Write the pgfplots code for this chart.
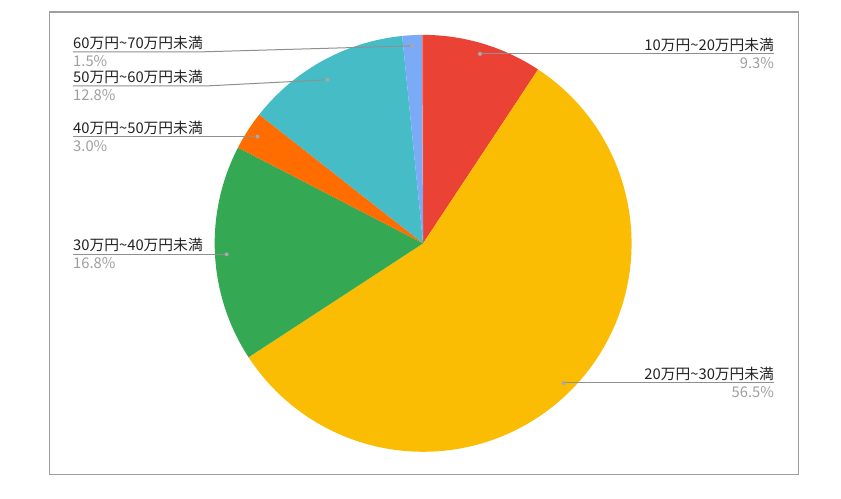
\documentclass[border=0pt]{standalone}
\usepackage{fontspec}
\setmainfont{Noto Sans CJK JP}
\usepackage{pgfplots}
\pgfplotsset{compat=1.18}
\usepackage{pgfplotstable}

\definecolor{cRed}{HTML}{EA4335}
\definecolor{cYellow}{HTML}{FBBC04}
\definecolor{cGreen}{HTML}{34A853}
\definecolor{cOrange}{HTML}{FF6D01}
\definecolor{cTeal}{HTML}{46BDC6}
\definecolor{cBlue}{HTML}{7BAAF7}
\definecolor{cPink}{HTML}{F07B72}
\definecolor{namec}{HTML}{222222}
\definecolor{pctc}{HTML}{9E9E9E}
\definecolor{leadc}{HTML}{8F8F8F}
\definecolor{dotc}{HTML}{A8A8A8}
\definecolor{framec}{HTML}{9E9E9E}

% slices clockwise from 12 o'clock, share in %
\pgfplotstableread[col sep=comma]{
name,value,color
10万円\textasciitilde{}20万円未満,9.3,cRed
20万円\textasciitilde{}30万円未満,56.5,cYellow
30万円\textasciitilde{}40万円未満,16.8,cGreen
40万円\textasciitilde{}50万円未満,3.0,cOrange
50万円\textasciitilde{}60万円未満,12.8,cTeal
60万円\textasciitilde{}70万円未満,1.5,cBlue
other,0.1,cPink
}\piedata

% label helpers (coordinates in px, y measured from the bottom)
\newcommand\leftlabel[5]{% idx, lineY, kneeX, dotX, dotY
  \draw[leadc, line width=1pt] (axis cs:71,#2) -- (axis cs:#3,#2) -- (axis cs:#4,#5);
  \fill[dotc] (axis cs:#4,#5) circle[radius=2pt];
  \node[anchor=base west, text=namec, inner sep=0pt] at ([yshift=3.5pt]axis cs:71,#2) {\csname pieN#1\endcsname};
  \node[anchor=base west, text=pctc, inner sep=0pt] at ([yshift=-14.7pt]axis cs:71,#2) {\csname pieV#1\endcsname\%};
}
\newcommand\rightlabel[3]{% idx, lineY, dotX
  \draw[leadc, line width=1pt] (axis cs:#3,#2) -- (axis cs:774,#2);
  \fill[dotc] (axis cs:#3,#2) circle[radius=2pt];
  \node[anchor=base east, text=namec, inner sep=0pt] at ([yshift=3.5pt]axis cs:774,#2) {\csname pieN#1\endcsname};
  \node[anchor=base east, text=pctc, inner sep=0pt] at ([yshift=-14.7pt]axis cs:774,#2) {\csname pieV#1\endcsname\%};
}

\begin{document}
% start/end angles of each slice
\def\pieangle{90}
\pgfplotsforeachungrouped \i in {0,...,6}{%
  \pgfplotstablegetelem{\i}{value}\of\piedata
  \expandafter\xdef\csname pieV\i\endcsname{\pgfplotsretval}%
  \pgfmathsetmacro\pieend{\pieangle-3.6*\pgfplotsretval}%
  \expandafter\xdef\csname pieS\i\endcsname{\pieangle}%
  \expandafter\xdef\csname pieE\i\endcsname{\pieend}%
  \global\let\pieangle\pieend
  \pgfplotstablegetelem{\i}{color}\of\piedata
  \expandafter\xdef\csname pieC\i\endcsname{\pgfplotsretval}%
  \pgfplotstablegetelem{\i}{name}\of\piedata
  \expandafter\global\expandafter\let\csname pieN\i\endcsname\pgfplotsretval
}%
\begin{tikzpicture}[font=\fontsize{14.8}{17}\selectfont]
\begin{axis}[
    x=1pt, y=1pt,
    xmin=0, xmax=841, ymin=0, ymax=500,
    scale only axis, hide axis, clip=false,
    enlargelimits=false,
]
  \path (axis cs:0,0) rectangle (axis cs:841,500);
  \draw[framec, line width=1.2pt] (axis cs:47,24) rectangle (axis cs:798,488);

  \pgfplotsinvokeforeach{0,...,6}{%
    \edef\piecmd{\noexpand\fill[fill=\csname pieC#1\endcsname]
      (axis cs:422,256) -- ++(\csname pieS#1\endcsname:209pt)
      arc[start angle=\csname pieS#1\endcsname, end angle=\csname pieE#1\endcsname, radius=209pt] -- cycle;}%
    \piecmd
  }

  \rightlabel{0}{446}{479}
  \rightlabel{1}{116}{563}
  \leftlabel{2}{245}{225}{225}{245}
  \leftlabel{3}{363}{256}{256}{363}
  \leftlabel{4}{414}{208}{326}{420}
  \leftlabel{5}{448}{200}{411}{454}
\end{axis}
\end{tikzpicture}
\end{document}
